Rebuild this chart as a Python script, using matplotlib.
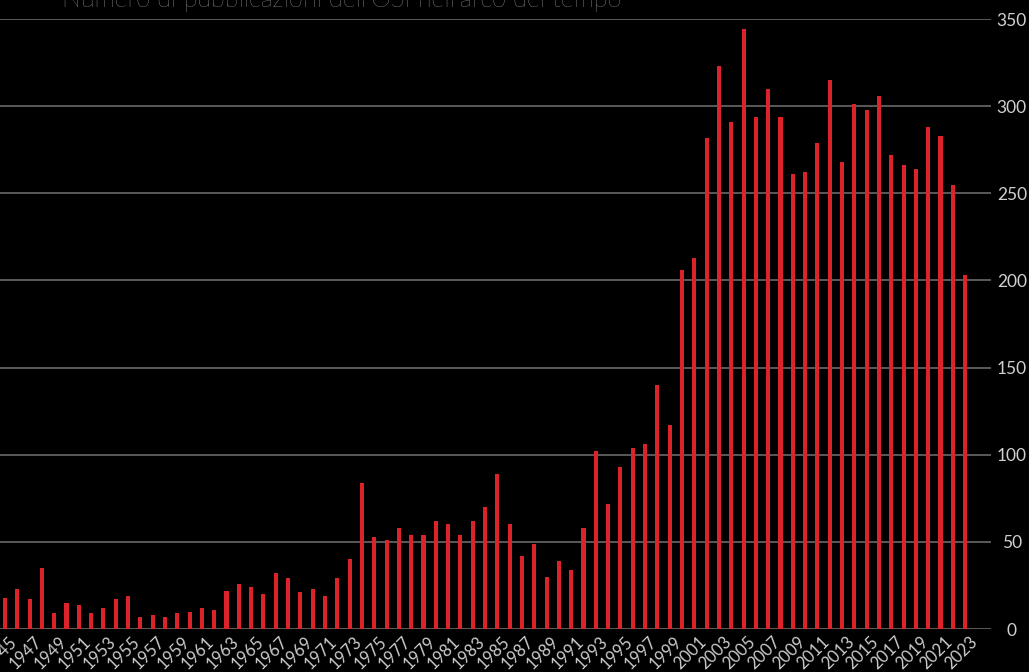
import numpy as np
import matplotlib
matplotlib.use('Agg')
from matplotlib import pyplot as plt
from matplotlib import transforms

years = list(range(1945, 2024))
counts = [18, 23, 17, 35, 9, 15, 14, 9, 12, 17,
          19, 7, 8, 7, 9, 10, 12, 11, 22, 26,
          24, 20, 32, 29, 21, 23, 19, 29, 40, 84,
          53, 51, 58, 54, 54, 62, 60, 54, 62, 70,
          89, 60, 42, 49, 30, 39, 34, 58, 102, 72,
          93, 104, 106, 140, 117, 206, 213, 282, 323, 291,
          344, 294, 310, 294, 261, 262, 279, 315, 268, 301,
          298, 306, 272, 266, 264, 288, 283, 255, 203]
yticks = [0, 50, 100, 150, 200, 250, 300, 350]
title = "Numero di pubblicazioni dell'OSI nell'arco del tempo"

plt.rcParams['font.family'] = ['Lato', 'DejaVu Sans']

fig = plt.figure(figsize=(10.29, 6.72), dpi=100, facecolor='black')
ax = fig.add_axes([0, 1 - 629 / 672, 991 / 1029, (629 - 19) / 672])
ax.set_facecolor('black')

x = np.arange(len(years))
ax.bar(x, counts, width=0.33, color='#dc2329', zorder=3)

ax.set_xlim(-0.4, 80.1)
ax.set_ylim(0, 350)
ax.set_yticks(yticks)
ax.yaxis.tick_right()
ax.grid(axis='y', color='#5a5a5a', linewidth=1.4, zorder=0)
ax.tick_params(axis='y', length=0, pad=15, labelsize=12.5, labelcolor='#d0d0d0')
for lab in ax.get_yticklabels():
    lab.set_horizontalalignment('center')

ax.set_xticks(x[::2])
ax.set_xticklabels([str(y) for y in years[::2]], rotation=45, ha='right',
                   rotation_mode='anchor', fontsize=12, color='#cccccc')
ax.tick_params(axis='x', length=0, pad=3)
shift = transforms.ScaledTranslation(4 / 100, 0, fig.dpi_scale_trans)
for lab in ax.get_xticklabels():
    lab.set_transform(lab.get_transform() + shift)

for s in ax.spines.values():
    s.set_visible(False)

fig.text(62 / 1029, 1 - 7 / 672, title, fontsize=18.2, color='#d8d8d8',
         fontweight='light', va='baseline', ha='left')

fig.savefig('out.png', dpi=100, facecolor='black')
